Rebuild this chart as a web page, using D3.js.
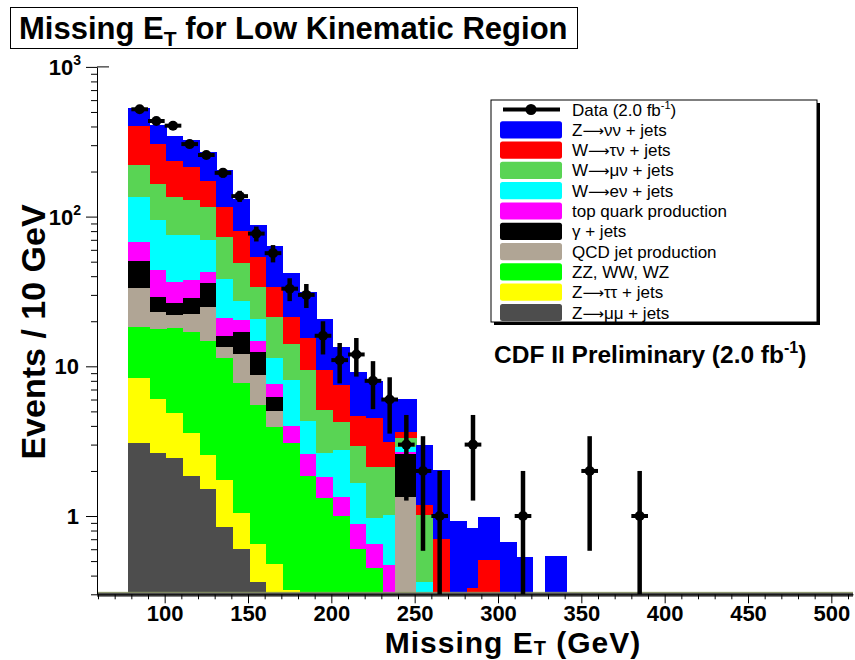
<!DOCTYPE html>
<html>
<head>
<meta charset="utf-8">
<script src="https://cdn.jsdelivr.net/npm/d3@7"></script>
<style>
  body { margin: 0; background: #fff; }
  svg { display: block; font-family: "Liberation Sans", Arial, Helvetica, sans-serif; }
</style>
</head>
<body>
<svg id="chart" width="855" height="660"></svg>
<script>
// Bin edges of the stacked MC histograms (GeV)
const binEdges = [78, 91, 101, 111, 121, 131, 141, 151, 161, 171, 181, 191, 201, 211, 221, 231, 238, 251, 261, 271, 281, 288, 301, 311, 321, 328, 341];

// MC components, events per bin (bottom of the stack first)
const zmumu     = [3.06, 2.62, 2.43, 1.85, 1.51, 0.84, 0.60, 0.36, 0, 0, 0, 0, 0, 0, 0, 0, 0, 0, 0, 0, 0, 0, 0, 0, 0, 0];
const ztautau   = [5.33, 3.43, 2.47, 1.72, 1.05, 0.91, 0.44, 0.29, 0.48, 0.32, 0, 0, 0, 0, 0, 0, 0, 0, 0, 0, 0, 0, 0, 0, 0, 0];
const dibosons  = [10.0, 11.6, 13.0, 13.5, 12.3, 9.6, 6.7, 4.9, 3.47, 2.77, 1.85, 1.31, 1.00, 0.60, 0.45, 0, 0, 0, 0, 0, 0, 0, 0, 0, 0, 0];
const qcd       = [15.1, 5.5, 4.1, 5.4, 10.0, 2.2, 4.3, 3.2, 1.1, 0, 0, 0, 0, 0, 0, 0, 1.33, 0, 0, 0, 0, 0, 0, 0, 0, 0];
const gammaJets = [17.0, 6.0, 4.4, 6.1, 11.0, 2.4, 5.0, 3.7, 1.2, 0, 0, 0, 0, 0, 0, 0, 1.26, 0, 0, 0, 0, 0, 0, 0, 0, 0];
const topQuark  = [17.5, 14.8, 10.3, 9.2, 7.1, 5.2, 3.4, 2.2, 1.4, 0.9, 0.73, 0.52, 0.35, 0.29, 0.20, 0.47, 0.09, 0, 0, 0, 0, 0, 0, 0, 0, 0];
const wenu      = [67.8, 50.9, 38.7, 37.7, 26.9, 17.2, 6.9, 6.0, 3.7, 4.1, 1.73, 0.79, 1.41, 0.76, 0.32, 0.54, 0.22, 0.36, 0, 0, 0, 0, 0, 0, 0, 0];
const wmunu     = [85.4, 70.2, 60.4, 53.7, 46.7, 35.1, 21.5, 13.1, 9.9, 6.0, 5.1, 2.5, 1.5, 1.3, 1.16, 1.12, 0.43, 0.65, 0, 0, 0, 0, 0, 0, 0, 0];
const wtaunu    = [182, 140, 99, 86, 56, 43, 31, 19.8, 12.4, 7.2, 6.0, 4.4, 3.2, 1.7, 2.4, 1.0, 0.29, 0.18, 0.70, 0, 0.33, 0.51, 0, 0, 0, 0];
const znunu     = [126, 104, 110, 110, 96, 88, 52, 35, 30, 21, 15.8, 11.1, 6.0, 4.5, 3.5, 2.9, 2.4, 1.8, 1.33, 0.93, 0.50, 0.48, 0.67, 0.53, 0, 0.54];

// Data (2.0 fb-1): bin centres and counts, non-empty bins only
const dataCenters = [85, 95, 105, 115, 125, 135, 145, 155, 165, 175, 185, 195, 205, 215, 225, 235, 245, 255, 265, 285, 315, 355, 385];
const dataCounts  = [521, 435, 405, 305, 258, 196, 137, 77, 57, 33, 30, 16, 11, 12, 8, 6, 3, 2, 1, 3, 1, 2, 1];

const xMajorTicks = [100, 150, 200, 250, 300, 350, 400, 450, 500];
const yMajorTicks = [1, 10, 100, 1000];
const yTickExp    = ["", "", "2", "3"];

// stack order bottom -> top
const components = [
  { key: "zmumu",     label: "Z\u2192\u03bc\u03bc + jets",   color: "#4d4d4d", values: zmumu },
  { key: "ztautau",   label: "Z\u2192\u03c4\u03c4 + jets",   color: "#ffff00", values: ztautau },
  { key: "dibosons",  label: "ZZ, WW, WZ",                   color: "#00ff00", values: dibosons },
  { key: "qcd",       label: "QCD jet production",           color: "#b0a595", values: qcd },
  { key: "gammaJets", label: "\u03b3 + jets",                color: "#000000", values: gammaJets },
  { key: "topQuark",  label: "top quark production",         color: "#ff00ff", values: topQuark },
  { key: "wenu",      label: "W\u2192e\u03bd + jets",        color: "#00ffff", values: wenu },
  { key: "wmunu",     label: "W\u2192\u03bc\u03bd + jets",   color: "#59d454", values: wmunu },
  { key: "wtaunu",    label: "W\u2192\u03c4\u03bd + jets",   color: "#ff0000", values: wtaunu },
  { key: "znunu",     label: "Z\u2192\u03bd\u03bd + jets",   color: "#0000ff", values: znunu }
];

const svg = d3.select("#chart");

const x = d3.scaleLinear().domain([59.4, 513]).range([97, 853]);
const y = d3.scaleLog().domain([0.3, 1000]).range([594.3, 66.9]).clamp(true);
const yMin = 0.3;

// build rows for d3.stack
const rows = binEdges.slice(0, -1).map((lo, i) => {
  const r = { lo: lo, hi: binEdges[i + 1] };
  components.forEach(c => { r[c.key] = c.values[i]; });
  return r;
});
const stacked = d3.stack().keys(components.map(c => c.key))(rows);

const histG = svg.append("g").attr("shape-rendering", "crispEdges");
stacked.forEach((layer, li) => {
  histG.append("g")
    .attr("fill", components[li].color)
    .selectAll("rect")
    .data(layer.filter(d => d[1] - d[0] > 0 && d[1] > yMin))
    .enter()
    .append("rect")
    .attr("x", d => x(d.data.lo))
    .attr("width", d => x(d.data.hi) - x(d.data.lo) + 0.3)
    .attr("y", d => y(d[1]))
    .attr("height", d => y(Math.max(d[0], yMin)) - y(d[1]));
});

// zero-level band of the bottom histogram
svg.append("rect")
  .attr("x", x.range()[0]).attr("width", x.range()[1] - x.range()[0])
  .attr("y", y(yMin) - 2).attr("height", 4.4)
  .attr("fill", "#4d4d4d");
svg.append("line")
  .attr("x1", x.range()[0]).attr("x2", x.range()[1])
  .attr("y1", y(yMin) - 2).attr("y2", y(yMin) - 2)
  .attr("stroke", "#9aa86a").attr("stroke-width", 0.8);

// x axis
const xMinor = d3.range(60, 511, 10).filter(v => xMajorTicks.indexOf(v) < 0);
svg.append("g")
  .attr("transform", `translate(0,${y(yMin)})`)
  .call(d3.axisBottom(x).tickValues(xMinor).tickSize(5).tickSizeOuter(0).tickFormat(""))
  .call(g => g.select(".domain").attr("stroke", "#000"));
const xAxisG = svg.append("g")
  .attr("transform", `translate(0,${y(yMin)})`)
  .call(d3.axisBottom(x).tickValues(xMajorTicks).tickSize(9).tickSizeOuter(0).tickPadding(2).tickFormat(d3.format("d")));
xAxisG.select(".domain").remove();
xAxisG.selectAll("text")
  .attr("font-size", 22).attr("font-weight", "bold")
  .attr("font-family", "Liberation Sans, Arial, sans-serif").attr("fill", "#000");

// y axis
const yMinor = [];
[0.1, 1, 10, 100].forEach(dec => {
  for (let k = 2; k <= 9; k++) {
    const v = k * dec;
    if (v >= yMin && v < 1000) yMinor.push(v);
  }
});
svg.append("g")
  .attr("transform", `translate(${x.range()[0]},0)`)
  .call(d3.axisLeft(y).tickValues(yMinor).tickSize(6).tickSizeOuter(0).tickFormat(""))
  .call(g => g.select(".domain").attr("stroke", "#000"));
svg.append("g")
  .attr("transform", `translate(${x.range()[0]},0)`)
  .call(d3.axisLeft(y).tickValues(yMajorTicks).tickSize(11).tickSizeOuter(0).tickFormat(""))
  .call(g => g.select(".domain").remove());
// short frame stub at the top
svg.append("line").attr("x1", x.range()[0]).attr("x2", x.range()[0] + 12)
  .attr("y1", y(1000)).attr("y2", y(1000)).attr("stroke", "#000");

const yLab = svg.append("g")
  .attr("font-size", 22).attr("font-weight", "bold").attr("text-anchor", "end");
yMajorTicks.forEach((v, i) => {
  const t = yLab.append("text")
    .attr("x", yTickExp[i] ? 81 : 79)
    .attr("y", y(v) + 8);
  t.append("tspan").text(v === 1 ? "1" : "10");
  if (yTickExp[i]) {
    t.append("tspan").attr("font-size", 14).attr("dy", -10).text(yTickExp[i]);
  }
});

// data points
const dataG = svg.append("g").attr("fill", "#000").attr("stroke", "#000");
dataCenters.forEach((c, i) => {
  const n = dataCounts[i];
  const err = Math.sqrt(n);
  dataG.append("line")
    .attr("x1", x(c)).attr("x2", x(c))
    .attr("y1", y(n + err)).attr("y2", y(Math.max(n - err, yMin)))
    .attr("stroke-width", 4.5);
  dataG.append("line")
    .attr("x1", x(c - 5)).attr("x2", x(c + 5))
    .attr("y1", y(n)).attr("y2", y(n))
    .attr("stroke-width", 4);
  dataG.append("circle")
    .attr("cx", x(c)).attr("cy", y(n)).attr("r", 5)
    .attr("stroke", "none");
});

// legend
const lg = svg.append("g");
lg.append("rect").attr("x", 494).attr("y", 103).attr("width", 326).attr("height", 222).attr("fill", "#000");
lg.append("rect").attr("x", 491).attr("y", 100).attr("width", 326).attr("height", 222)
  .attr("fill", "#fff").attr("stroke", "#000").attr("stroke-width", 1);

const rowY = k => 109.5 + k * 20.3;
lg.append("line").attr("x1", 503).attr("x2", 560).attr("y1", rowY(0)).attr("y2", rowY(0))
  .attr("stroke", "#000").attr("stroke-width", 4);
lg.append("circle").attr("cx", 531).attr("cy", rowY(0)).attr("r", 5.5).attr("fill", "#000");
const dataText = lg.append("text").attr("x", 572).attr("y", rowY(0) + 6).attr("font-size", 17);
dataText.append("tspan").text("Data (2.0 fb");
dataText.append("tspan").attr("font-size", 11).attr("dy", -7).text("-1");
dataText.append("tspan").attr("dy", 7).text(")");

components.slice().reverse().forEach((c, k) => {
  const yy = rowY(k + 1);
  lg.append("rect").attr("x", 500).attr("y", yy - 8.6).attr("width", 62).attr("height", 17.2)
    .attr("rx", 2.5).attr("fill", c.color);
  const t = lg.append("text").attr("x", 572).attr("y", yy + 6).attr("font-size", 17);
  const parts = c.label.split("\u2192");
  t.append("tspan").text(parts[0]);
  if (parts.length > 1) {
    t.append("tspan").attr("font-family", "DejaVu Sans").attr("font-size", 15).text("\u27f6");
    t.append("tspan").text(parts[1]);
  }
});

// CDF label
const cdf = svg.append("text").attr("x", 494).attr("y", 363)
  .attr("font-size", 24.5).attr("font-weight", "bold");
cdf.append("tspan").text("CDF II Preliminary (2.0 fb");
cdf.append("tspan").attr("font-size", 16).attr("dy", -10).text("-1");
cdf.append("tspan").attr("dy", 10).text(")");

// title
svg.append("rect").attr("x", 10.5).attr("y", 7.5).attr("width", 567).attr("height", 41)
  .attr("fill", "#fff").attr("stroke", "#000").attr("stroke-width", 1);
const title = svg.append("text").attr("x", 19).attr("y", 39)
  .attr("font-size", 31).attr("font-weight", "bold");
title.append("tspan").text("Missing E");
title.append("tspan").attr("font-size", 21).attr("dy", 7).text("T");
title.append("tspan").attr("dy", -7).text(" for Low Kinematic Region");

// axis titles
const xt = svg.append("text").attr("x", 513).attr("y", 653)
  .attr("text-anchor", "middle").attr("font-size", 30).attr("font-weight", "bold")
  .attr("letter-spacing", 1);
xt.append("tspan").text("Missing E");
xt.append("tspan").attr("font-size", 20).attr("dy", 2).text("T");
xt.append("tspan").attr("dy", -2).text(" (GeV)");

svg.append("text")
  .attr("transform", "translate(45,332) rotate(-90)")
  .attr("text-anchor", "middle").attr("font-size", 34).attr("font-weight", "bold")
  .text("Events / 10 GeV");
</script>
</body>
</html>
